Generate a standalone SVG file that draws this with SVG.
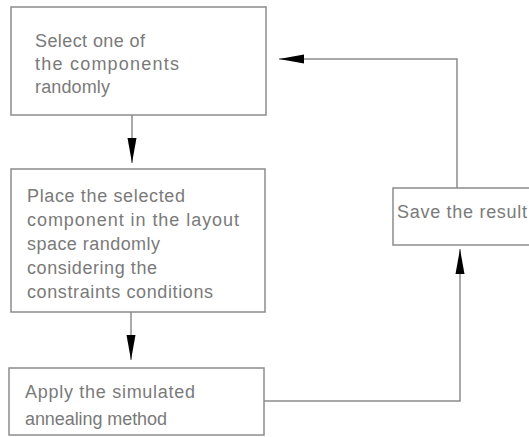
<svg xmlns="http://www.w3.org/2000/svg" width="529" height="437" viewBox="0 0 529 437">
<style>
.box{fill:#ffffff;stroke:#8c8c8c;stroke-width:1.5}
.t{font-family:"Liberation Sans",Arial,sans-serif;font-size:18px;fill:#7a7a7a}
.c{fill:none;stroke:#8c8c8c;stroke-width:1.5}
</style>
<defs>
<marker id="ah" markerUnits="userSpaceOnUse" markerWidth="26" markerHeight="10" refX="25" refY="5" orient="auto">
<path d="M0,0.5 L25,5 L0,9.5 Z" fill="#000"/>
</marker>
</defs>
<rect width="529" height="437" fill="#ffffff"/>
<g id="connectors">
<path class="c" d="M132,115 V163" marker-end="url(#ah)"/>
<path class="c" d="M131,312 V360" marker-end="url(#ah)"/>
<path class="c" d="M264,401 H460 V249" marker-end="url(#ah)"/>
<path class="c" d="M457,188 V59 H279" marker-end="url(#ah)"/>
</g>
<g id="select">
<rect class="box" x="11" y="7" width="255" height="108"/>
<text class="t" x="35" y="47" textLength="110" lengthAdjust="spacing">Select one of</text>
<text class="t" x="35" y="70" textLength="144" lengthAdjust="spacing">the components</text>
<text class="t" x="35" y="93" textLength="75" lengthAdjust="spacing">randomly</text>
</g>
<g id="place">
<rect class="box" x="11" y="169" width="254" height="143"/>
<text class="t" x="27" y="202" textLength="158" lengthAdjust="spacing">Place the selected</text>
<text class="t" x="27" y="226" textLength="212" lengthAdjust="spacing">component in the layout</text>
<text class="t" x="27" y="250" textLength="133" lengthAdjust="spacing">space randomly</text>
<text class="t" x="27" y="274" textLength="130" lengthAdjust="spacing">considering the</text>
<text class="t" x="27" y="298" textLength="186" lengthAdjust="spacing">constraints conditions</text>
</g>
<g id="apply">
<rect class="box" x="9" y="368" width="255" height="67"/>
<text class="t" x="25" y="398" textLength="170" lengthAdjust="spacing">Apply the simulated</text>
<text class="t" x="25" y="425" textLength="142" lengthAdjust="spacing">annealing method</text>
</g>
<g id="save">
<rect class="box" x="393" y="188" width="140" height="57"/>
<text class="t" x="397" y="218" textLength="130" lengthAdjust="spacing">Save the result</text>
</g>
</svg>
